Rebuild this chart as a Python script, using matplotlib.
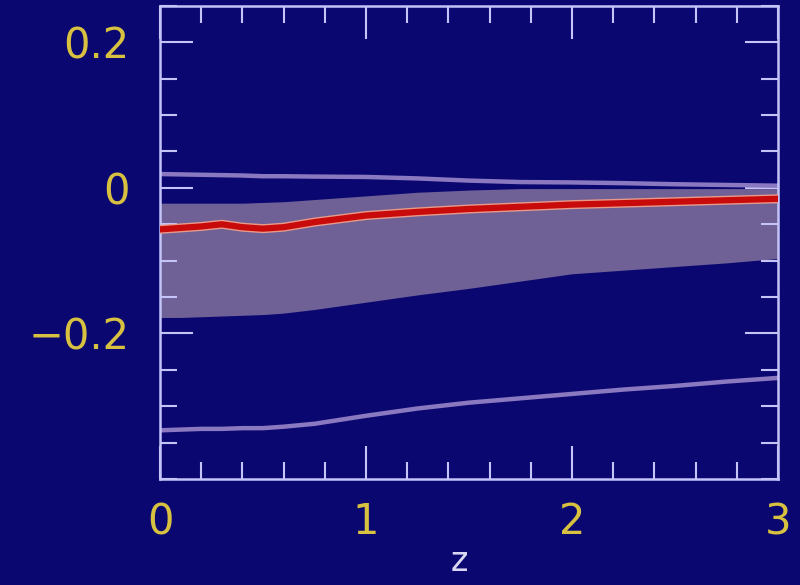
import matplotlib
matplotlib.use('Agg')
import matplotlib.pyplot as plt
import matplotlib.patheffects as pe
from matplotlib.ticker import MultipleLocator, FixedLocator

# redshift grid and curves
z = [0, 0.1, 0.2, 0.3, 0.4, 0.5, 0.6, 0.75, 1.0, 1.25, 1.5, 1.75, 2.0, 2.25, 2.5, 2.75, 3.0]
mean_val = [-0.057, -0.055, -0.053, -0.050, -0.054, -0.056, -0.054, -0.047, -0.038,
            -0.033, -0.029, -0.026, -0.023, -0.021, -0.019, -0.017, -0.015]
band_hi = [-0.021, -0.021, -0.021, -0.021, -0.021, -0.020, -0.019, -0.016, -0.011,
           -0.006, -0.003, -0.001, -0.001, -0.001, -0.001, -0.001, -0.001]
band_lo = [-0.178, -0.178, -0.177, -0.176, -0.175, -0.174, -0.172, -0.167, -0.157,
           -0.147, -0.138, -0.128, -0.118, -0.113, -0.108, -0.103, -0.097]
outer_hi = [0.019, 0.0185, 0.018, 0.0175, 0.017, 0.016, 0.016, 0.0155, 0.015,
            0.013, 0.010, 0.008, 0.0075, 0.0065, 0.005, 0.004, 0.003]
outer_lo = [-0.333, -0.332, -0.331, -0.331, -0.330, -0.330, -0.328, -0.324, -0.313,
            -0.303, -0.295, -0.289, -0.283, -0.277, -0.272, -0.266, -0.261]

bg = '#0a0870'
frame = '#c4c4f8'
yellow = '#d8c040'

fig = plt.figure(figsize=(8, 5.85), dpi=100, facecolor=bg)
ax = fig.add_axes([0.2, 0.181, 0.7725, 0.809], facecolor=bg)

ax.fill_between(z, band_lo, band_hi, color='#6f6096', lw=0, zorder=1)
ax.plot(z, outer_hi, color='#8a78c0', lw=3.2, zorder=2)
ax.plot(z, outer_lo, color='#8a78c0', lw=3.2, zorder=2)
ax.plot(z, mean_val, color='#c80a0a', lw=4.5, zorder=3,
        path_effects=[pe.Stroke(linewidth=6.5, foreground='#e89a8a'), pe.Normal()])

ax.set_xlim(0, 3)
ax.set_ylim(-0.4, 0.25)

ax.xaxis.set_major_locator(FixedLocator([0, 1, 2, 3]))
ax.xaxis.set_minor_locator(MultipleLocator(0.2))
ax.yaxis.set_major_locator(FixedLocator([-0.2, 0, 0.2]))
ax.yaxis.set_minor_locator(MultipleLocator(0.05))
ax.set_yticklabels(['\u22120.2', '0', '0.2'])
ax.set_xticklabels(['0', '1', '2', '3'])

ax.tick_params(which='both', direction='in', top=True, right=True, color=frame,
               labelcolor=yellow, labelsize=30)
ax.tick_params(which='major', length=24, width=1.5)
ax.tick_params(which='minor', length=12.5, width=1.5)
ax.tick_params(axis='x', which='major', pad=16)
ax.tick_params(axis='y', which='major', pad=22)

for s in ax.spines.values():
    s.set_color(frame)
    s.set_linewidth(1.8)

ax.set_xlabel('z', color='#d8d8f4', fontsize=24)
ax.xaxis.set_label_coords(0.485, -0.14)

fig.savefig('out.png', dpi=100, facecolor=bg)
